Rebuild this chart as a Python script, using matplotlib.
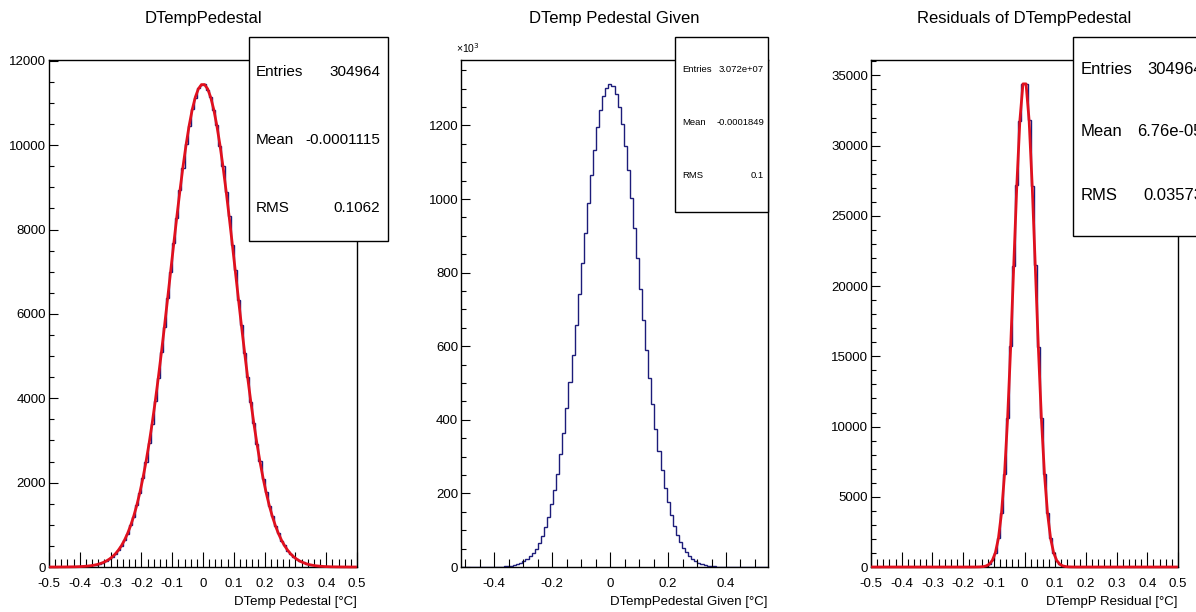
#!/usr/bin/env python3
import numpy as np
import matplotlib
matplotlib.use("Agg")
import matplotlib.pyplot as plt
from matplotlib.patches import Rectangle
from matplotlib.ticker import MultipleLocator, FuncFormatter

plt.rcParams['font.family'] = ['Liberation Sans', 'DejaVu Sans']

# ---- data ----
# panel 1: DTempPedestal, 100 bins in [-0.5, 0.5]
ped_counts = [0, 1, 0, 2, 1, 3, 2, 5, 6, 7, 12, 15, 24, 29, 44, 55, 80, 101, 141, 179,
              242, 303, 401, 498, 640, 788, 990, 1195, 1472, 1756, 2120, 2488, 2945, 3398, 3946,
              4480, 5105, 5698, 6372, 6994, 7680, 8285, 8935, 9470, 10030, 10445, 10865, 11120,
              11360, 11420,
              11450, 11318, 11150, 10825, 10480, 9990, 9505, 8898, 8320, 7645, 7030, 6340, 5728,
              5072, 4510, 3915, 3422, 2918, 2510, 2096, 1778, 1450, 1215, 970, 801, 627, 510, 390,
              314, 233, 186, 135, 107, 75, 59, 40, 32, 20, 17, 10, 9, 4, 5, 2, 2, 1, 0, 1, 0, 0]
ped_fit = [0, 0, 0, 1, 1, 2, 3, 4, 5, 8, 11, 16, 22, 30, 42, 57, 78, 104, 138, 182,
           238, 308, 396, 503, 634, 793, 981, 1203, 1463, 1765, 2109, 2497, 2931, 3409, 3931,
           4493, 5088, 5712, 6356, 7011, 7662, 8302, 8915, 9488, 10007, 10463, 10843, 11136,
           11336, 11437,
           11437, 11336, 11136, 10843, 10463, 10007, 9488, 8915, 8302, 7662, 7011, 6356, 5712,
           5088, 4493, 3931, 3409, 2931, 2497, 2109, 1765, 1463, 1203, 981, 793, 634, 503, 396,
           308, 238, 182, 138, 104, 78, 57, 42, 30, 22, 16, 11, 8, 5, 4, 3, 2, 1, 1, 0, 0, 0]

# panel 2: DTemp Pedestal Given (x10^3), 100 bins in [-0.515, 0.545]
given_counts = [0, 0, 0, 0, 0, 0, 0, 0, 0, 0, 0, 0,
                1, 1, 2, 3, 4, 6, 8, 11, 16, 21, 29, 38, 50, 66, 85, 108, 136, 170, 209, 254,
                307, 365, 431, 502, 577, 658, 741, 825, 908, 990, 1066, 1134, 1195, 1243, 1281,
                1303, 1312, 1306, 1285, 1250, 1204, 1145, 1078, 1003, 922, 840, 755, 672, 590,
                514, 442, 376, 316, 263, 216, 176, 141, 112, 88, 69, 53, 40, 30, 22, 16, 12, 9,
                6, 4, 3, 2, 1, 1,
                0, 0, 0, 0, 0, 0, 0, 0, 0, 0, 0, 0, 0, 0, 0]

# panel 3: residuals, 100 bins in [-0.5, 0.5]
res_counts = [0] * 33 + [1, 3, 10, 26, 78, 190, 465, 1002, 2052, 3810, 6640, 10580, 15730,
                         21450, 27230, 31780, 34380,
                         34420, 31840, 27150, 21520, 15680, 10630, 6600, 3842, 2031, 1015, 452,
                         197, 73, 28, 8, 3, 1] + [0] * 33
res_fit = [0] * 33 + [1, 3, 9, 27, 76, 194, 460, 1008, 2040, 3826, 6623, 10606, 15700,
                      21489, 27192, 31813, 34400,
                      34400, 31813, 27192, 21489, 15700, 10606, 6623, 3826, 2040, 1008, 460,
                      194, 76, 27, 9, 3, 1] + [0] * 33

titles = ["DTempPedestal", "DTemp Pedestal Given", "Residuals of DTempPedestal"]
xlabels = ["DTemp Pedestal [\u00b0C]", "DTempPedestal Given [\u00b0C]", "DTempP Residual [\u00b0C]"]
stats = [[("Entries", "304964"), ("Mean", "-0.0001115"), ("RMS", "0.1062")],
         [("Entries", "3.072e+07"), ("Mean", "-0.0001849"), ("RMS", "0.1")],
         [("Entries", "304964"), ("Mean", "6.76e-05"), ("RMS", "0.03573")]]

W, H = 1196, 612
HIST_COLOR = "#1c1c7a"
FIT_COLOR = "#e0101e"


def fx(px):
    return px / W


def fy(py):
    return 1 - py / H


def fmt(v, pos):
    s = f"{v:.1f}".rstrip("0").rstrip(".")
    return "0" if s in ("0", "-0") else s


fig = plt.figure(figsize=(W / 100, H / 100), dpi=100)

# axes frames in pixels: left, right, top, bottom
frames = [(49, 357, 60, 567), (461, 768, 60, 567), (871, 1178, 60, 567)]
axes = []
for (l, r, t, b) in frames:
    ax = fig.add_axes([fx(l), fy(b), (r - l) / W, (b - t) / H])
    axes.append(ax)

edges1 = np.linspace(-0.5, 0.5, 101)
centers1 = 0.5 * (edges1[1:] + edges1[:-1])
edges2 = np.linspace(-0.515, 0.545, 101)

# panel 1
ax = axes[0]
ax.stairs(ped_counts, edges1, color=HIST_COLOR, lw=1)
ax.plot(centers1, ped_fit, color=FIT_COLOR, lw=2, clip_on=False, zorder=5)
ax.set_xlim(-0.5, 0.5)
ax.set_ylim(0, 12020)
ax.xaxis.set_major_locator(MultipleLocator(0.1))
ax.xaxis.set_minor_locator(MultipleLocator(0.02))
ax.yaxis.set_major_locator(MultipleLocator(2000))
ax.yaxis.set_minor_locator(MultipleLocator(500))

# panel 2
ax = axes[1]
ax.stairs(given_counts, edges2, color=HIST_COLOR, lw=1)
ax.set_xlim(-0.515, 0.545)
ax.set_ylim(0, 1378)
ax.xaxis.set_major_locator(MultipleLocator(0.2))
ax.xaxis.set_minor_locator(MultipleLocator(0.05))
ax.yaxis.set_major_locator(MultipleLocator(200))
ax.yaxis.set_minor_locator(MultipleLocator(50))
fig.text(fx(456), fy(48), "\u00d710$^3$", fontsize=7.5, ha="left", va="center")

# panel 3
ax = axes[2]
ax.stairs(res_counts, edges1, color=HIST_COLOR, lw=1)
ax.plot(centers1, res_fit, color=FIT_COLOR, lw=2, clip_on=False, zorder=5)
ax.set_xlim(-0.5, 0.5)
ax.set_ylim(0, 36100)
ax.xaxis.set_major_locator(MultipleLocator(0.1))
ax.xaxis.set_minor_locator(MultipleLocator(0.02))
ax.yaxis.set_major_locator(MultipleLocator(5000))
ax.yaxis.set_minor_locator(MultipleLocator(1000))

for ax, (l, r, t, b), title, xl in zip(axes, frames, titles, xlabels):
    ax.tick_params(axis="both", which="both", direction="in", top=False, right=False,
                   labelsize=9.5, width=0.8)
    ax.tick_params(axis="x", which="major", length=11, pad=8)
    ax.tick_params(axis="x", which="minor", length=5.5)
    ax.tick_params(axis="y", which="major", length=6.5, pad=2)
    ax.tick_params(axis="y", which="minor", length=3.3)
    ax.xaxis.set_major_formatter(FuncFormatter(fmt))
    for sp in ax.spines.values():
        sp.set_linewidth(1)
    ax.text(1.0, -35 / (b - t), xl, transform=ax.transAxes, ha="right", va="center",
            fontsize=9.5)
    fig.text(fx((l + r) / 2), fy(18), title, ha="center", va="center", fontsize=12)

# stat boxes: left, right, top, bottom, font size, row y positions, label/value x
# (the third box runs past the right edge of the canvas, as in the reference)
boxes = [(249, 388, 37, 241, 11, (72, 140, 208), 256, 380),
         (675, 768, 37, 212, 6.8, (70, 123, 175), 682, 764),
         (1073, 1212, 37, 236, 12, (70, 131, 195), 1081, 1203)]
for (l, r, t, b, fs, rows, lx, vx), st in zip(boxes, stats):
    fig.patches.append(Rectangle((fx(l), fy(b)), (r - l) / W, (b - t) / H,
                                 transform=fig.transFigure, facecolor="white",
                                 edgecolor="black", lw=1, zorder=6))
    for (name, val), ry in zip(st, rows):
        fig.text(fx(lx), fy(ry), name, ha="left", va="center", fontsize=fs, zorder=7)
        fig.text(fx(vx), fy(ry), val, ha="right", va="center", fontsize=fs, zorder=7)

fig.savefig("out.png", dpi=100)
